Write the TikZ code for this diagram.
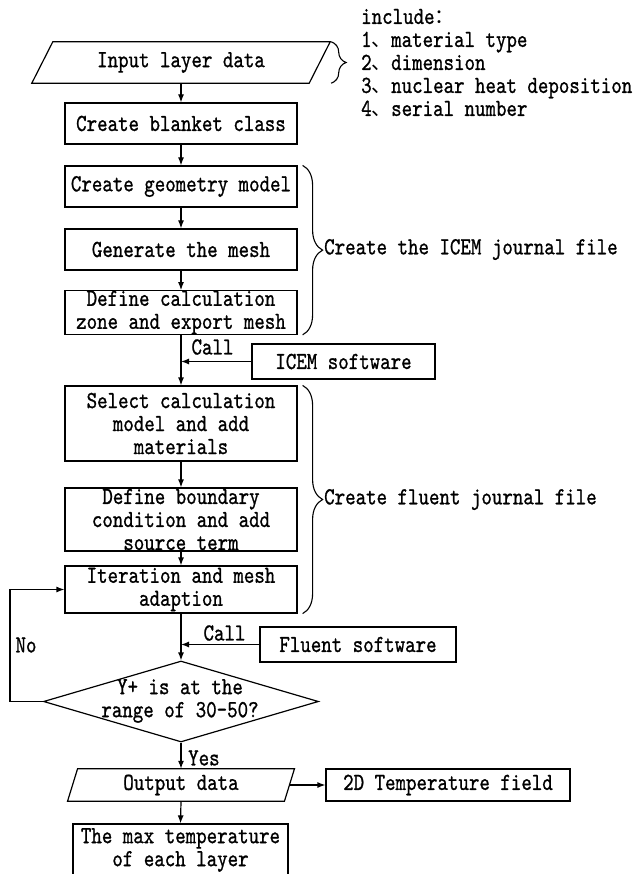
\documentclass[tikz,border=0pt]{standalone}
\usepackage{fontspec}
\newfontfamily\dg{lmmono10-regular.otf}[FakeStretch=0.815,FakeBold=0.9]
\newfontfamily\cjk{Noto Sans CJK SC}
\usetikzlibrary{shapes.geometric,arrows.meta,decorations.pathreplacing}
\newcommand{\dgcomma}{\makebox[19.5pt][l]{\cjk\fontsize{20}{20}\selectfont 、}}
\tikzset{
  base/.style={font=\dg\fontsize{24.5}{23}\selectfont, inner sep=0pt, align=center},
  box/.style={base, draw, line width=1.2pt, minimum width=232pt},
  ln/.style={line width=1.2pt},
  arr/.style={line width=1.2pt, -{Latex[length=8pt,width=6pt]}},
  brc/.style={line width=1.1pt, decorate, decoration={brace, amplitude=#1}},
}
\begin{document}
\begin{tikzpicture}[x=1pt,y=-1pt]
\clip (0,0) rectangle (633,874);
\fill[white] (0,0) rectangle (633,874);

% input parallelogram
\node[base, minimum width=277pt, minimum height=41pt] (input) at (181,62.5) {Input layer data};
\draw[ln] ([xshift=-10.5pt]input.south west) -- ([xshift=10.5pt]input.north west)
  -- ([xshift=10.5pt]input.north east) -- ([xshift=-10.5pt]input.south east) -- cycle;
\draw[brc=15pt] ([xshift=11.5pt]input.north east) -- ([xshift=11.5pt]input.south east);
\node[base, align=left, anchor=west] (incl) at (361,63)
  {include{\cjk\fontsize{20}{20}\selectfont ：}\\1\dgcomma material type\\2\dgcomma dimension\\3\dgcomma nuclear heat deposition\\4\dgcomma serial number};

\node[box, minimum height=41pt] (blanket) at (181,123.5) {Create blanket class};
\node[box, minimum height=41pt] (geometry) at (181,186.5) {Create geometry model};
\node[box, minimum height=41pt] (mesh) at (181,249.5) {Generate the mesh};
\node[box, minimum height=41pt] (define) at (181,312.5) {Define calculation\\zone and export mesh};
\node[base, draw, line width=1.2pt, minimum width=183pt, minimum height=35pt] (icem) at (343.5,361.5) {ICEM software};
\node[box, minimum height=75pt] (select) at (181,423.5) {Select calculation\\model and add\\materials};
\node[box, minimum height=63pt] (boundary) at (181,519.5) {Define boundary\\condition and add\\source term};
\node[box, minimum height=47pt] (iteration) at (181,589.5) {Iteration and mesh\\adaption};
\node[base, draw, line width=1.2pt, minimum width=196pt, minimum height=35pt] (fluent) at (358,644.5) {Fluent software};
\node[draw, line width=1.2pt, diamond, minimum width=275pt, minimum height=81pt, inner sep=0pt] (dia) at (181,701.5) {};
\node[base] (diatext) at (180,701) {Y+ is at the\\range of 30-50?};

% output parallelogram
\node[base, minimum width=216.5pt, minimum height=32pt] (output) at (181,785) {Output data};
\draw[ln] ([xshift=-5pt]output.south west) -- ([xshift=5pt]output.north west)
  -- ([xshift=5pt]output.north east) -- ([xshift=-5pt]output.south east) -- cycle;
\node[base, draw, line width=1.2pt, minimum width=244pt, minimum height=32pt] (temp) at (448,785) {2D Temperature field};
\node[box, minimum width=215pt, minimum height=52pt] (maxt) at (180.5,850) {The max temperature\\of each layer};

% braces
\draw[brc=20pt] ([xshift=5pt]geometry.north east) -- ([xshift=5pt]define.south east);
\node[base, anchor=west] (icemlbl) at (324,249.5) {Create the ICEM journal file};
\draw[brc=20pt] ([xshift=5pt]select.north east) -- ([xshift=5pt]iteration.south east);
\node[base, anchor=west] (fluentlbl) at (324,499.5) {Create fluent journal file};

% connectors
\draw[arr] (input.south) -- (blanket.north);
\draw[arr] (blanket.south) -- (geometry.north);
\draw[arr] (geometry.south) -- (mesh.north);
\draw[arr] (mesh.south) -- (define.north);
\draw[arr] (define.south) -- (select.north);
\draw[arr] (icem.west) -- (icem.west -| define.south);
\node[base] (call1) at (212.5,347) {Call};
\draw[arr] (select.south) -- (boundary.north);
\draw[arr] (boundary.south) -- (iteration.north);
\draw[arr] (iteration.south) -- (dia.north);
\draw[arr] (fluent.west) -- (fluent.west -| iteration.south);
\node[base] (call2) at (224.5,633) {Call};
\coordinate (nocorner) at (10,589.5);
\draw[arr] (dia.west) -| (nocorner) -- (iteration.west);
\node[base] (no) at (26,645) {No};
\draw[arr] (dia.south) -- (output.north);
\node[base, anchor=west] (yes) at (188,758) {Yes};
\draw[arr] (output.east) -- (temp.west);
\draw[arr] (output.south) -- (maxt.north);
\end{tikzpicture}
\end{document}
